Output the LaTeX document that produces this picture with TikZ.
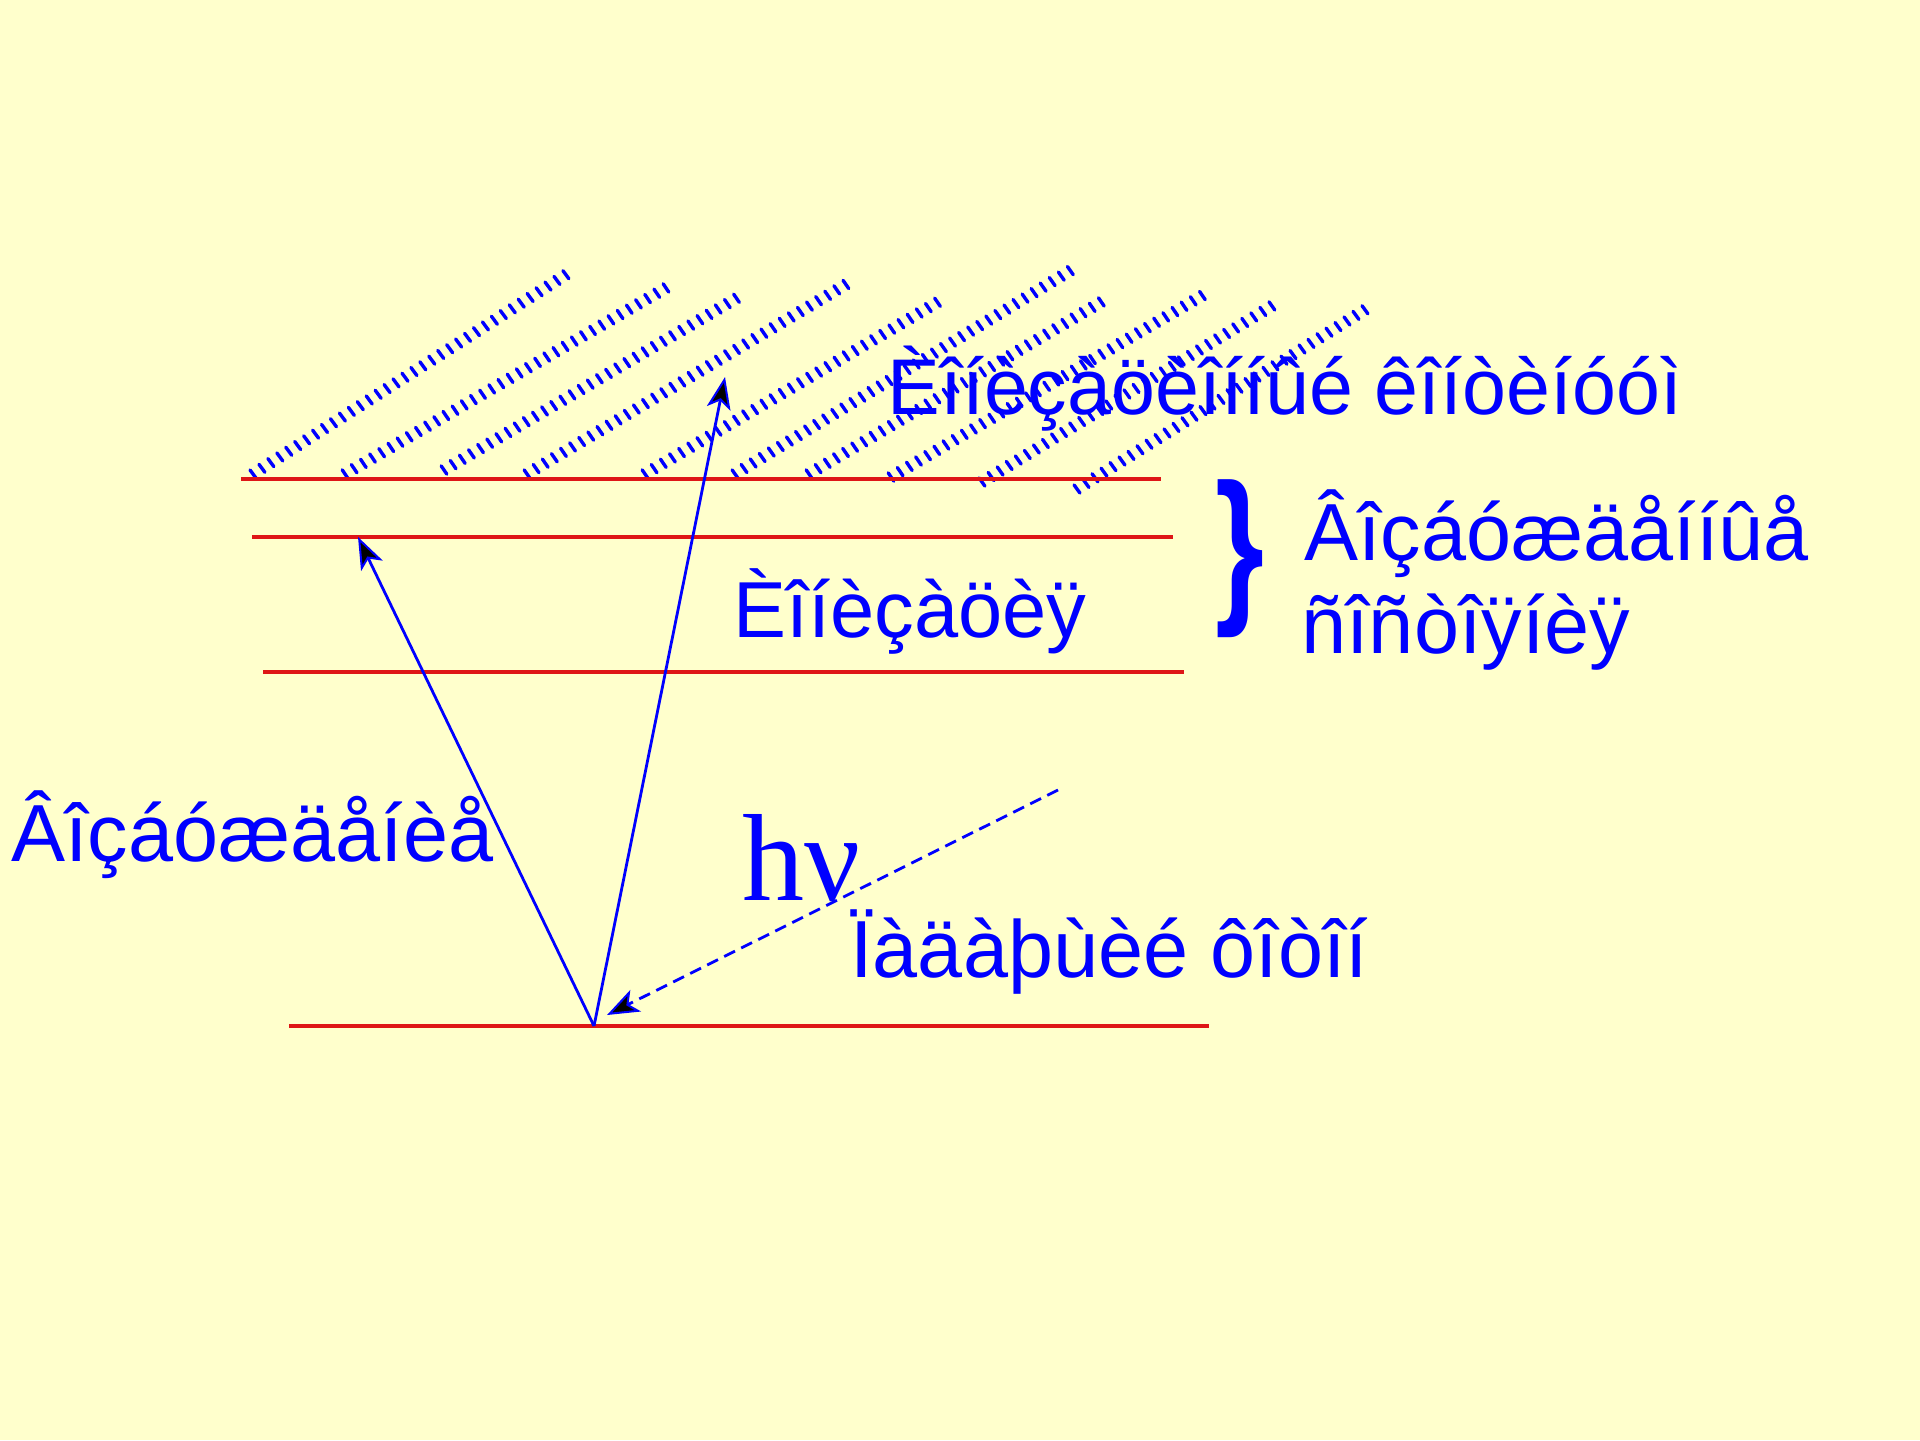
\documentclass[tikz,border=0pt]{standalone}
\usepackage{fontspec}
\setmainfont{Liberation Sans}
\newfontfamily\seriffont{Liberation Serif}
\usetikzlibrary{arrows.meta,decorations.markings}
\definecolor{bg}{RGB}{255,255,204}
\definecolor{lvlred}{RGB}{222,22,22}
\definecolor{ink}{RGB}{0,0,255}
\begin{document}
\begin{tikzpicture}[x=0.5pt,y=-0.5pt,
  level/.style={draw=lvlred, line width=1.7pt},
  lbl/.style={text=ink, font=\fontsize{40.5}{48}\selectfont, inner sep=0pt, anchor=base west},
  arr/.style={draw=ink, line width=1.4pt, -{Stealth[length=16pt,width=12pt,inset=4pt,fill=black,line width=1pt]}},
  hatchline/.style={decoration={markings, mark=between positions 0 and 1 step 5.3pt with {\draw[ink, line width=1.7pt, line cap=round] (274:2.5pt) -- (94:2.5pt);}}, decorate}
]
\fill[bg] (0,0) rectangle (1920,1440);
\useasboundingbox (0,0) rectangle (1920,1440);

% hatched continuum
\foreach \ax/\ay/\bx/\by [count=\i] in {253/474/567/274, 345/474/671/285, 444/470/742/295, 527/474/850/282, 645/474/943/299, 735/474/1073/269, 809/474/1108/298, 891/477/1205/294, 982/482/1280/301, 1077/489/1371/306}{
  \coordinate (h\i a) at (\ax,\ay);
  \coordinate (h\i b) at (\bx,\by);
  \path[hatchline] (h\i a) -- (h\i b);
}

% levels
\coordinate (l1a) at (241,479);  \coordinate (l1b) at (1161,479);
\coordinate (l2a) at (252,537);  \coordinate (l2b) at (1173,537);
\coordinate (l3a) at (263,672);  \coordinate (l3b) at (1184,672);
\coordinate (l4a) at (289,1026); \coordinate (l4b) at (1209,1026);
\draw[level] (l1a) -- (l1b);
\draw[level] (l2a) -- (l2b);
\draw[level] (l3a) -- (l3b);
\draw[level] (l4a) -- (l4b);

% arrows
\coordinate (apex) at (594,1026);
\coordinate (tipA) at (358,537);
\coordinate (tipB) at (725,377);
\coordinate (photon) at (1058,790);
\coordinate (tipC) at (607,1015);
\draw[arr] (apex) -- (tipA);
\draw[arr] (apex) -- (tipB);
\draw[arr, dash pattern=on 6pt off 3.5pt] (photon) -- (tipC);

% labels
\node[lbl, font=\fontsize{39.5}{47}\selectfont] (cont) at (887,414) {Èîíèçàöèîííûé êîíòèíóóì};
\node[lbl] (exc1) at (1304,560) {Âîçáóæäåííûå};
\node[lbl] (exc2) at (1301,653) {ñîñòîÿíèÿ};
\node[lbl, font=\fontsize{39.7}{47}\selectfont] (ion) at (733,637) {Èîíèçàöèÿ};
\node[lbl] (excit) at (11,861) {Âîçáóæäåíèå};
\node[lbl, font=\seriffont\fontsize{62}{70}\selectfont] (hnu) at (742,900) {hν};
\node[lbl] (phot) at (850,977) {Ïàäàþùèé ôîòîí};
\node[text=ink, inner sep=0pt] (brace) at (1240,559) {\resizebox*{24.5pt}{79pt}{\bfseries\}}};
\end{tikzpicture}
\end{document}
